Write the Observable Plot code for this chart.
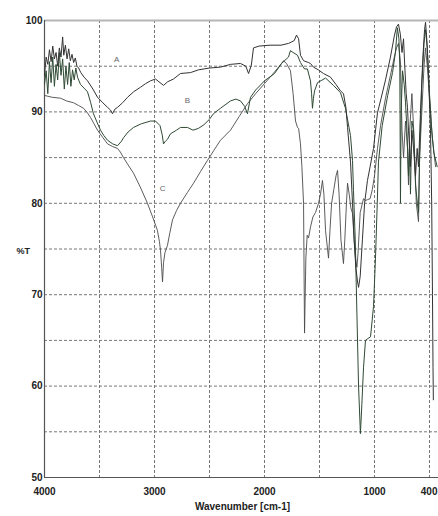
<!DOCTYPE html>
<html>
<head>
<meta charset="utf-8">
<script src="https://cdn.jsdelivr.net/npm/d3@7"></script>
<script src="https://cdn.jsdelivr.net/npm/@observablehq/plot@0.6"></script>
<style>
html, body { margin: 0; padding: 0; background: #fff; overflow: hidden; width: 438px; height: 516px; }
#chart svg { display: block; max-width: none !important; width: 442px !important; height: 516px !important; }
</style>
</head>
<body>
<div id="chart"></div>
<script>
// Tick labels and grid positions
const xTicks = [4000, 3000, 2000, 1000];
const xEndTick = [400];
const yTicks = [50, 60, 70, 80, 90, 100];
const xGrid = [3500, 3000, 2500, 2000, 1500, 1000, 500];
const yGrid = [55, 60, 65, 70, 75, 80, 85, 90, 95];

// Curve labels: [text, wavenumber, %T]
const curveLabels = [["A", 3345, 95.7], ["B", 2700, 91.2], ["C", 2927, 81.6]];

// Spectrum A: [wavenumber, %T]
const curveA = [[4000,94.0],[3985,96.0],[3970,95.2],[3955,96.8],[3940,95.5],[3925,97.2],[3910,95.8],[3895,96.5],[3880,95.0],[3865,97.0],[3850,96.0],[3835,98.2],[3825,96.2],[3810,97.3],[3795,95.8],[3780,96.9],[3765,95.6],[3750,96.3],[3735,95.4],[3720,95.9],[3705,95.0],[3690,94.8],[3670,94.3],[3640,93.8],[3609,93.4],[3560,92.5],[3518,91.6],[3470,91.0],[3427,90.5],[3400,90.2],[3382,89.8],[3360,90.3],[3336,90.5],[3290,91.0],[3245,91.6],[3190,92.2],[3127,92.7],[3080,93.1],[3036,93.4],[2991,93.6],[2950,93.2],[2918,92.9],[2880,93.3],[2827,93.6],[2764,94.2],[2673,94.3],[2600,94.6],[2500,94.8],[2400,94.9],[2309,95.2],[2218,95.3],[2170,95.0],[2145,94.2],[2120,95.1],[2100,97.0],[2050,97.2],[1950,97.3],[1850,97.3],[1780,97.5],[1730,97.8],[1709,98.4],[1690,98.0],[1673,96.2],[1645,95.6],[1600,95.4],[1582,95.3],[1555,94.9],[1510,94.6],[1464,94.2],[1400,93.8],[1350,93.0],[1309,92.3],[1282,92.0],[1260,90.5],[1245,88.3],[1218,84.5],[1200,80.0],[1185,76.0],[1170,73.0],[1155,71.5],[1145,70.8],[1130,72.0],[1110,76.0],[1090,80.0],[1064,82.5],[1040,84.0],[1009,86.0],[973,89.9],[940,91.5],[900,93.5],[855,96.0],[820,98.3],[800,99.3],[782,99.6],[765,98.5],[750,96.5],[736,98.0],[725,95.0],[712,92.0],[700,90.5],[691,88.0],[680,86.0],[673,84.0],[660,88.0],[645,86.0],[627,83.0],[612,86.0],[600,84.0],[582,90.0],[560,96.0],[545,99.0],[536,99.8],[525,98.0],[509,94.0],[491,88.0],[480,80.0],[473,70.0],[468,62.0],[465,58.5]];

// Spectrum B
const curveB = [[4000,93.0],[3985,94.5],[3970,92.0],[3955,95.5],[3940,93.2],[3925,96.0],[3910,92.8],[3895,95.2],[3880,93.5],[3865,96.5],[3850,94.0],[3835,95.8],[3820,92.5],[3805,95.0],[3790,93.0],[3775,95.4],[3760,92.8],[3745,94.6],[3730,93.5],[3715,94.8],[3700,93.8],[3673,93.0],[3640,92.6],[3609,92.2],[3580,91.0],[3555,89.8],[3520,88.8],[3491,88.0],[3460,87.4],[3427,86.9],[3380,86.5],[3336,86.3],[3300,86.8],[3280,87.2],[3240,87.8],[3191,88.3],[3120,88.7],[3036,89.0],[2991,89.0],[2950,88.5],[2930,87.5],[2918,86.5],[2900,86.8],[2882,87.0],[2855,87.6],[2800,88.0],[2764,88.3],[2700,88.3],[2650,88.0],[2600,88.2],[2550,88.6],[2500,89.2],[2464,89.8],[2400,90.4],[2309,91.2],[2260,91.4],[2218,91.2],[2180,90.6],[2155,89.8],[2127,91.6],[2080,92.4],[2000,93.4],[1909,94.2],[1845,95.3],[1782,96.0],[1764,96.7],[1740,96.5],[1700,96.2],[1673,95.4],[1636,94.7],[1610,94.7],[1582,93.4],[1572,92.0],[1564,90.4],[1555,91.5],[1545,92.3],[1518,93.2],[1445,93.7],[1373,92.9],[1309,92.1],[1264,90.4],[1218,87.4],[1200,84.7],[1191,81.4],[1175,76.0],[1160,68.0],[1145,60.0],[1128,54.8],[1115,58.0],[1100,62.0],[1082,65.0],[1060,65.2],[1036,65.4],[1009,68.7],[991,74.0],[975,80.0],[964,84.5],[930,88.5],[880,91.8],[836,94.3],[810,96.5],[792,99.2],[778,98.0],[770,95.0],[764,80.0],[758,90.0],[745,94.5],[730,93.0],[718,91.0],[705,88.0],[691,83.0],[682,86.0],[673,81.0],[660,89.0],[645,88.0],[627,82.0],[610,80.0],[600,79.0],[590,85.0],[570,93.0],[550,97.5],[536,99.0],[520,97.0],[500,92.0],[480,88.0],[460,85.5],[430,84.0]];

// Spectrum C
const curveC = [[4000,91.8],[3930,91.6],[3855,91.5],[3800,91.2],[3736,91.0],[3690,90.7],[3645,90.4],[3610,89.9],[3582,89.4],[3550,88.7],[3518,88.0],[3470,87.2],[3427,86.5],[3380,86.2],[3336,86.0],[3310,85.6],[3282,85.0],[3240,84.2],[3191,83.3],[3130,81.8],[3064,80.0],[3020,78.6],[2990,77.6],[2973,77.0],[2955,75.8],[2945,74.8],[2935,73.0],[2927,71.4],[2918,73.5],[2905,74.6],[2882,75.4],[2860,76.8],[2836,78.2],[2800,79.2],[2764,80.0],[2700,81.2],[2645,82.2],[2580,83.5],[2518,84.7],[2460,85.8],[2400,86.9],[2309,88.0],[2230,89.5],[2155,90.9],[2080,92.0],[2000,93.1],[1920,94.2],[1845,95.3],[1827,95.6],[1800,95.3],[1764,94.5],[1740,92.0],[1718,89.0],[1700,88.3],[1690,88.2],[1673,86.5],[1660,84.0],[1645,80.0],[1640,72.0],[1636,65.8],[1630,70.0],[1624,74.0],[1612,76.5],[1600,76.2],[1580,77.5],[1560,78.5],[1536,79.0],[1509,80.0],[1491,81.0],[1473,82.5],[1460,81.0],[1445,77.0],[1418,74.0],[1405,77.0],[1390,80.0],[1370,81.5],[1350,83.0],[1336,83.6],[1322,81.0],[1305,76.0],[1282,73.4],[1270,76.0],[1255,80.0],[1245,82.2],[1230,81.0],[1215,79.5],[1200,78.9],[1185,76.0],[1173,74.0],[1160,73.0],[1150,74.5],[1130,79.0],[1100,80.5],[1082,80.3],[1064,80.4],[1040,80.5],[1020,81.5],[1000,83.0],[973,86.0],[945,88.5],[900,91.5],[855,94.0],[820,96.0],[800,97.0],[782,97.5],[764,95.5],[750,88.0],[736,85.0],[718,89.0],[700,86.0],[691,82.0],[680,88.0],[660,92.0],[640,87.0],[620,80.0],[600,78.0],[590,85.0],[570,90.0],[550,95.0],[536,97.0],[520,95.0],[491,90.0],[473,87.0],[445,84.0]];

const font = "'Liberation Sans Narrow', 'Liberation Sans', Arial, sans-serif";

const chart = Plot.plot({
  width: 442,
  height: 516,
  marginLeft: 44,
  marginRight: 2,
  marginTop: 20,
  marginBottom: 39,
  style: {fontFamily: font, fontSize: "10px", fontWeight: "bold", color: "#222", background: "#fff"},
  x: {domain: [4000, 400]},
  y: {domain: [50, 100]},
  marks: [
    Plot.ruleY(yGrid, {y: d => d, stroke: "#777", strokeWidth: 1, strokeDasharray: "3,2"}),
    Plot.ruleX(xGrid, {x: d => d, stroke: "#777", strokeWidth: 1, strokeDasharray: "3,2"}),
    Plot.ruleY([100], {y: d => d, stroke: "#b5b5b5", strokeWidth: 2.2}),
    Plot.ruleY([50], {y: d => d, stroke: "#555", strokeWidth: 1.2}),
    Plot.ruleX([4000], {x: d => d, stroke: "#555", strokeWidth: 1.2}),
    Plot.line(curveC, {x: d => d[0], y: d => d[1], stroke: "#4a4a4a", strokeWidth: 0.9}),
    Plot.line(curveB, {x: d => d[0], y: d => d[1], stroke: "#2f4a34", strokeWidth: 1}),
    Plot.line(curveA, {x: d => d[0], y: d => d[1], stroke: "#333", strokeWidth: 1}),
    Plot.text(curveLabels, {x: d => d[1], y: d => d[2], text: d => d[0], fontSize: 8, fontWeight: "normal", fill: "#666"}),
    Plot.axisX({ticks: xTicks, tickSize: 0, tickPadding: 10, tickFormat: d => String(d), label: null}),
    Plot.axisX({ticks: xEndTick, tickSize: 0, tickPadding: 10, tickFormat: d => String(d), textAnchor: "end", dx: -3, label: null}),
    Plot.axisY({ticks: yTicks, tickSize: 0, tickPadding: 2, tickFormat: d => String(d), label: null}),
    Plot.text(["Wavenumber [cm-1]"], {frameAnchor: "bottom", dy: 32, text: d => d, fontSize: 10, fontWeight: "bold"}),
    Plot.text(["%T"], {frameAnchor: "left", dx: -28, dy: 2, text: d => d, fontSize: 9, fontWeight: "bold"})
  ]
});
document.getElementById("chart").appendChild(chart);
</script>
</body>
</html>
